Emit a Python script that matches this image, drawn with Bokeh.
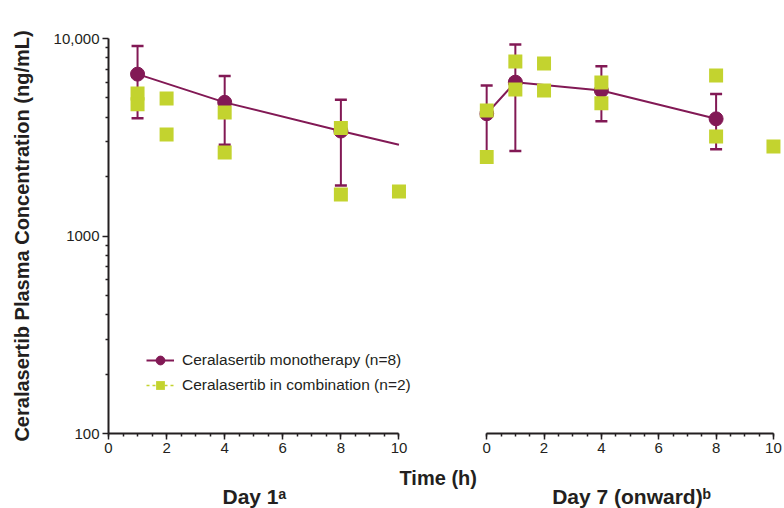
from bokeh.plotting import figure
from bokeh.models import (ColumnDataSource, Whisker, TeeHead, FixedTicker, Legend,
                          LegendItem, Title)
from bokeh.layouts import row
from bokeh.embed import file_html
from bokeh.resources import INLINE

# ---------------- data ----------------
# Day 1 - ceralasertib monotherapy (mean with error bars)
d1_mono_t = [1, 4, 8]
d1_mono_mean = [6600, 4750, 3400]
d1_mono_lo = [3950, 2900, 1800]
d1_mono_hi = [9150, 6450, 4900]
# Day 1 - mean line (continues to 10 h)
d1_line_t = [1, 4, 8, 10]
d1_line_y = [6600, 4750, 3400, 2900]
# Day 1 - combination (individual patients)
d1_comb_t = [1, 1, 2, 2, 4, 4, 8, 8, 10]
d1_comb_y = [5270, 4650, 4970, 3270, 4220, 2650, 3520, 1620, 1680]

# Day 7 (onward) - monotherapy
d7_mono_t = [0, 1, 4, 8]
d7_mono_mean = [4160, 6010, 5450, 3920]
d7_mono_lo = [2550, 2690, 3810, 2750]
d7_mono_hi = [5780, 9320, 7240, 5230]
# Day 7 (onward) - combination
d7_comb_t = [0, 0, 1, 1, 2, 2, 4, 4, 8, 8, 10]
d7_comb_y = [4320, 2510, 7650, 5520, 7470, 5450, 5990, 4700, 6500, 3190, 2840]

x_ticks = [0, 2, 4, 6, 8, 10]
x_minor = [i * 0.5 for i in range(21)]
y_ticks = [100, 1000, 10000]
y_minor = [200, 300, 400, 500, 600, 700, 800, 900,
           2000, 3000, 4000, 5000, 6000, 7000, 8000, 9000]
y_tick_labels = {100: "100", 1000: "1000", 10000: "10,000"}

MONO = "#821955"
COMB = "#c3d32f"
INK = "#231f20"
SANS = "Liberation Sans"

H = 508


def style_xaxis(ax):
    ax.ticker = FixedTicker(ticks=x_ticks, minor_ticks=x_minor)
    ax.bounds = (0, 10)
    ax.axis_line_width = 2
    ax.axis_line_color = INK
    ax.major_tick_line_color = INK
    ax.major_tick_line_width = 1.5
    ax.minor_tick_line_color = INK
    ax.minor_tick_line_width = 1.5
    ax.major_tick_in = 0
    ax.major_tick_out = 6
    ax.minor_tick_in = 0
    ax.minor_tick_out = 3
    ax.major_label_text_font = SANS
    ax.major_label_text_font_size = "15px"
    ax.major_label_text_color = INK
    ax.major_label_standoff = 3


def add_bottom_titles(p, time_text, day_text, day_align, day_offset):
    p.add_layout(Title(text=time_text, align="left", offset=291,
                       vertical_align="bottom", standoff=18,
                       text_font=SANS, text_font_style="bold",
                       text_font_size="20px", text_color=INK), "below")
    p.add_layout(Title(text=day_text, align=day_align, offset=day_offset,
                       vertical_align="top", standoff=-26,
                       text_font=SANS, text_font_style="bold",
                       text_font_size="21px", text_color=INK), "below")


def draw(p, mono_t, mono_mean, mono_lo, mono_hi, line_t, line_y, comb_t, comb_y):
    line_r = p.line(line_t, line_y, line_color=MONO, line_width=2)
    src = ColumnDataSource(dict(t=mono_t, lo=mono_lo, hi=mono_hi))
    w = Whisker(source=src, base="t", lower="lo", upper="hi",
                line_color=MONO, line_width=2,
                upper_head=TeeHead(size=12, line_color=MONO, line_width=2.5),
                lower_head=TeeHead(size=12, line_color=MONO, line_width=2.5))
    p.add_layout(w)
    circ_r = p.scatter(mono_t, mono_mean, marker="circle", size=14,
                       fill_color=MONO, line_color=MONO)
    sq_r = p.scatter(comb_t, comb_y, marker="square", size=14,
                     fill_color=COMB, line_color=None)
    return line_r, circ_r, sq_r


# ---------------- Day 1 panel ----------------
p1 = figure(width=479, height=H, y_axis_type="log",
            x_range=(0, 10.5), y_range=(100, 10000),
            output_backend="svg", toolbar_location=None,
            min_border_left=108, min_border_right=66,
            min_border_top=38, min_border_bottom=75)
p1.outline_line_color = None
p1.grid.visible = False
style_xaxis(p1.xaxis[0])

ya = p1.yaxis[0]
ya.ticker = FixedTicker(ticks=y_ticks, minor_ticks=y_minor)
ya.major_label_overrides = y_tick_labels
ya.axis_line_width = 2
ya.axis_line_color = INK
ya.major_tick_line_color = INK
ya.major_tick_line_width = 1.5
ya.minor_tick_line_color = INK
ya.minor_tick_line_width = 1.5
ya.major_tick_in = 0
ya.major_tick_out = 6
ya.minor_tick_in = 0
ya.minor_tick_out = 3
ya.major_label_text_font = SANS
ya.major_label_text_font_size = "15px"
ya.major_label_text_color = INK
ya.major_label_standoff = 3
ya.axis_label = "Ceralasertib Plasma Concentration (ng/mL)"
ya.axis_label_text_font = SANS
ya.axis_label_text_font_style = "bold"
ya.axis_label_text_font_size = "20px"
ya.axis_label_text_color = INK
ya.axis_label_standoff = 18

l1, c1, s1 = draw(p1, d1_mono_t, d1_mono_mean, d1_mono_lo, d1_mono_hi,
                  d1_line_t, d1_line_y, d1_comb_t, d1_comb_y)

# legend-only dashed line for the combination entry (no visible data)
dash_r = p1.line([float("nan")], [float("nan")], line_color=COMB,
                 line_width=1.5, line_dash="3 3")

legend = Legend(items=[
    LegendItem(label="Ceralasertib monotherapy (n=8)", renderers=[l1, c1]),
    LegendItem(label="Ceralasertib in combination (n=2)", renderers=[dash_r, s1]),
], location=(38, 37))
legend.background_fill_alpha = 0
legend.border_line_color = None
legend.padding = 0
legend.margin = 0
legend.spacing = 3
legend.glyph_width = 28
legend.glyph_height = 22
legend.label_height = 22
legend.label_standoff = 8
legend.label_text_font = SANS
legend.label_text_font_size = "15.5px"
legend.label_text_color = INK
p1.add_layout(legend)

add_bottom_titles(p1, "Time (h)", "Day 1\u1d43", "left", 114)

# ---------------- Day 7 (onward) panel ----------------
p2 = figure(width=304, height=H, y_axis_type="log",
            x_range=(-0.25, 10.35), y_range=(100, 10000),
            output_backend="svg", toolbar_location=None,
            min_border_left=0, min_border_right=0,
            min_border_top=38, min_border_bottom=75)
p2.outline_line_color = None
p2.grid.visible = False
p2.yaxis.visible = False
style_xaxis(p2.xaxis[0])

draw(p2, d7_mono_t, d7_mono_mean, d7_mono_lo, d7_mono_hi,
     d7_mono_t, d7_mono_mean, d7_comb_t, d7_comb_y)

add_bottom_titles(p2, " ", "Day 7 (onward)\u1d47", "center", 0)

layout = row(p1, p2)
open("out.html", "w").write(file_html(layout, INLINE))
